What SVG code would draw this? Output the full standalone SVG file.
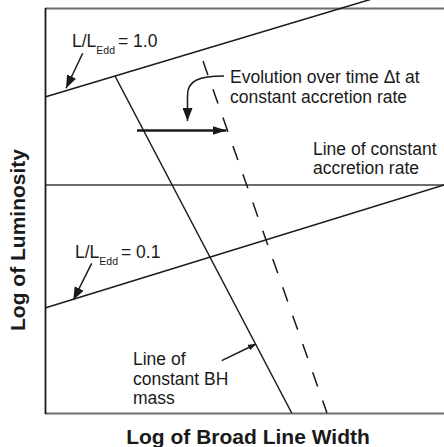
<svg xmlns="http://www.w3.org/2000/svg" width="444" height="447" viewBox="0 0 444 447">
<style>
text{font-family:"Liberation Sans",Arial,sans-serif;fill:#1a1a1a;font-size:17.5px}
.ax{font-weight:bold;font-size:21px}
.frame{stroke:#6e6e6e;stroke-width:2;fill:none}
.ln{stroke:#1a1a1a;stroke-width:1.5;fill:none}
</style>
<defs>
<marker id="ah" markerUnits="userSpaceOnUse" markerWidth="14" markerHeight="10" refX="13" refY="5" orient="auto"><path d="M0,0 L13,5 L0,10 z" fill="#1a1a1a"/></marker>
<marker id="ahT" markerUnits="userSpaceOnUse" markerWidth="15" markerHeight="10" refX="14" refY="5" orient="auto"><path d="M0,0.5 L14,5 L0,9.5 z" fill="#1a1a1a"/></marker>
<marker id="ahS" markerUnits="userSpaceOnUse" markerWidth="9" markerHeight="7" refX="8" refY="3" orient="auto"><path d="M0,0 L8,3 L0,6 z" fill="#1a1a1a"/></marker>
</defs>
<g id="frame">
<line class="frame" x1="45" y1="8.5" x2="444" y2="8.5"/>
<line class="frame" x1="45" y1="185" x2="444" y2="185"/>
<line class="frame" x1="45" y1="413.5" x2="444" y2="413.5"/>
<line x1="45.5" y1="8" x2="45.5" y2="414" stroke="#1a1a1a" stroke-width="1.8"/>
</g>
<g id="lines">
<line id="edd1" class="ln" x1="45" y1="97" x2="372" y2="-1"/>
<line id="edd01" class="ln" x1="45" y1="308" x2="444" y2="185"/>
<line id="bhmass" class="ln" x1="115" y1="76" x2="291.7" y2="413"/>
<line id="evol" class="ln" x1="203" y1="61" x2="327" y2="413" stroke-dasharray="15,15"/>
</g>
<g id="connectors">
<line class="ln" x1="82.7" y1="53.3" x2="66" y2="88.3" marker-end="url(#ah)"/>
<line class="ln" x1="91.7" y1="263.3" x2="73.3" y2="300" marker-end="url(#ah)"/>
<line class="ln" x1="221.7" y1="360.7" x2="256" y2="344" marker-end="url(#ahS)"/>
<line x1="137" y1="130.5" x2="226.5" y2="130.5" stroke="#1a1a1a" stroke-width="2.6" marker-end="url(#ahT)"/>
<path class="ln" d="M224,76 C200,76 187,80 187.5,96 L187.5,121" marker-end="url(#ah)"/>
</g>
<g id="label-edd1"><text x="72" y="46.7">L/L<tspan font-size="10.5" dy="7">Edd</tspan><tspan x="118" dy="-7">= 1.0</tspan></text></g>
<g id="label-edd01"><text x="75" y="258.3">L/L<tspan font-size="10.5" dy="7">Edd</tspan><tspan x="121" dy="-7">= 0.1</tspan></text></g>
<g id="label-evol"><text x="230" y="83">Evolution over time Δt at</text><text x="230" y="102.5">constant accretion rate</text></g>
<g id="label-acc"><text x="313" y="155">Line of constant</text><text x="313" y="174">accretion rate</text></g>
<g id="label-bh"><text x="133" y="365">Line of</text><text x="133" y="385">constant BH</text><text x="133" y="404">mass</text></g>
<g id="axes-labels">
<text class="ax" text-anchor="middle" x="248" y="444">Log of Broad Line Width</text>
<text class="ax" text-anchor="middle" transform="translate(24.5,240) rotate(-90)">Log of Luminosity</text>
</g>
</svg>
